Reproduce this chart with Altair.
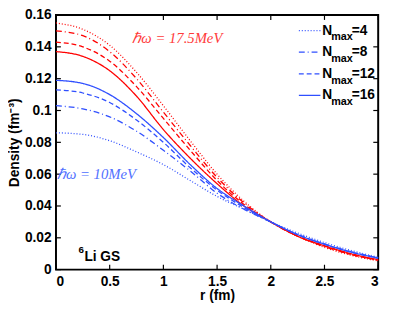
import altair as alt
import pandas as pd

r = [0, 0.25, 0.5, 0.75, 1.0, 1.25, 1.5, 1.75, 2.0, 2.25, 2.5, 2.75, 3.0]

red_n4 = [0.155, 0.151, 0.141, 0.124, 0.103, 0.081, 0.060, 0.043, 0.030, 0.021, 0.014, 0.009, 0.0055]
red_n8 = [0.150, 0.147, 0.137, 0.120, 0.099, 0.078, 0.058, 0.042, 0.030, 0.021, 0.0145, 0.0095, 0.006]
red_n12 = [0.143, 0.140, 0.131, 0.115, 0.095, 0.075, 0.056, 0.041, 0.030, 0.021, 0.015, 0.0095, 0.006]
red_n16 = [0.137, 0.134, 0.125, 0.109, 0.088, 0.070, 0.054, 0.040, 0.030, 0.021, 0.015, 0.010, 0.0062]

blue_n4 = [0.086, 0.085, 0.081, 0.074, 0.066, 0.056, 0.046, 0.038, 0.030, 0.023, 0.017, 0.012, 0.0078]
blue_n8 = [0.103, 0.101, 0.096, 0.087, 0.075, 0.062, 0.048, 0.038, 0.030, 0.022, 0.016, 0.0112, 0.0074]
blue_n12 = [0.113, 0.111, 0.105, 0.094, 0.080, 0.064, 0.050, 0.039, 0.030, 0.022, 0.016, 0.011, 0.0073]
blue_n16 = [0.119, 0.117, 0.110, 0.098, 0.083, 0.066, 0.051, 0.040, 0.030, 0.022, 0.016, 0.011, 0.0072]

nmax_labels = ["4", "8", "12", "16"]
x_ticks = [0, 0.5, 1, 1.5, 2, 2.5, 3]
y_ticks = [0, 0.02, 0.04, 0.06, 0.08, 0.1, 0.12, 0.14, 0.16]

RED = "#ff0000"
BLUE = "#2f4fff"

rows = []
series = {
    ("17.5", "4"): red_n4, ("17.5", "8"): red_n8, ("17.5", "12"): red_n12, ("17.5", "16"): red_n16,
    ("10", "4"): blue_n4, ("10", "8"): blue_n8, ("10", "12"): blue_n12, ("10", "16"): blue_n16,
}
for (hw, nm), vals in series.items():
    for rv, dv in zip(r, vals):
        rows.append({"r": rv, "density": dv, "hw": hw, "nmax": nm, "key": hw + "_" + nm})
df = pd.DataFrame(rows)

W, H = 329, 260
xs = alt.Scale(domain=[0, 3], nice=False, zero=False)
ys = alt.Scale(domain=[0, 0.16], nice=False)
dash_scale = alt.Scale(domain=nmax_labels, range=[[1, 2], [6, 3, 1, 3], [5, 3], [1, 0]])
x_axis = alt.Axis(values=x_ticks, format="~g", title="r (fm)", labelOverlap=False)
y_axis = alt.Axis(values=y_ticks, format="~g", title="Density (fm⁻³)", labelOverlap=False)

lines = alt.Chart(df).mark_line(strokeWidth=1.3, interpolate="monotone").encode(
    x=alt.X("r:Q", scale=xs, axis=x_axis),
    y=alt.Y("density:Q", scale=ys, axis=y_axis),
    color=alt.Color("hw:N", scale=alt.Scale(domain=["17.5", "10"], range=[RED, BLUE]), legend=None),
    strokeDash=alt.StrokeDash("nmax:N", scale=dash_scale, legend=None),
    detail="key:N",
)

xt = pd.DataFrame({"r": x_ticks})
yt = pd.DataFrame({"density": y_ticks})
tick_style = dict(color="black", strokeWidth=1.2)
bt = alt.Chart(xt).mark_rule(**tick_style).encode(x=alt.X("r:Q", scale=xs, axis=x_axis), y=alt.value(H), y2=alt.value(H - 5))
tt = alt.Chart(xt).mark_rule(**tick_style).encode(x=alt.X("r:Q", scale=xs, axis=x_axis), y=alt.value(0), y2=alt.value(5))
lt = alt.Chart(yt).mark_rule(**tick_style).encode(y=alt.Y("density:Q", scale=ys, axis=y_axis), x=alt.value(0), x2=alt.value(5))
rt = alt.Chart(yt).mark_rule(**tick_style).encode(y=alt.Y("density:Q", scale=ys, axis=y_axis), x=alt.value(W), x2=alt.value(W - 5))

leg = pd.DataFrame({"nmax": nmax_labels, "i": [0, 1, 2, 3]})
leg["ly"] = 16 + leg["i"] * 22
leg["eq"] = "=" + leg["nmax"]
leg_lines = alt.Chart(leg).mark_rule(strokeWidth=1.3, color=BLUE).encode(
    x=alt.value(248), x2=alt.value(270), y=alt.Y("ly:Q", scale=None),
    strokeDash=alt.StrokeDash("nmax:N", scale=dash_scale, legend=None),
)
font = "Liberation Sans"
leg_n = alt.Chart(leg).mark_text(text="N", font=font, fontWeight="bold", fontSize=14, align="left", baseline="middle").encode(
    x=alt.value(272), y=alt.Y("ly:Q", scale=None))
leg_max = alt.Chart(leg).transform_calculate(ly2="datum.ly + 7").mark_text(text="max", font=font, fontWeight="bold", fontSize=11, align="left", baseline="middle").encode(
    x=alt.value(281), y=alt.Y("ly2:Q", scale=None))
leg_eq = alt.Chart(leg).mark_text(font=font, fontWeight="bold", fontSize=14, align="left", baseline="middle").encode(
    x=alt.value(302), y=alt.Y("ly:Q", scale=None), text="eq:N")

ann_red = alt.Chart(pd.DataFrame({"t": ["ℏω = 17.5MeV"]})).mark_text(
    font="Liberation Serif", fontStyle="italic", fontSize=15, color="#ff3a3a", align="left", baseline="middle"
).encode(x=alt.value(78), y=alt.value(24), text="t:N")
ann_blue = alt.Chart(pd.DataFrame({"t": ["ℏω = 10MeV"]})).mark_text(
    font="Liberation Serif", fontStyle="italic", fontSize=15, color="#5070ff", align="left", baseline="middle"
).encode(x=alt.value(1), y=alt.value(162), text="t:N")
ann_li6 = alt.Chart(pd.DataFrame({"t": ["6"]})).mark_text(
    font=font, fontWeight="bold", fontSize=10, color="black", align="left", baseline="middle"
).encode(x=alt.value(23), y=alt.value(240), text="t:N")
ann_li = alt.Chart(pd.DataFrame({"t": ["Li GS"]})).mark_text(
    font=font, fontWeight="bold", fontSize=14, color="black", align="left", baseline="middle"
).encode(x=alt.value(29), y=alt.value(247), text="t:N")

chart = alt.layer(lines, bt, tt, lt, rt, leg_lines, leg_n, leg_max, leg_eq, ann_red, ann_blue, ann_li6, ann_li).properties(
    width=W, height=H,
    autosize=alt.AutoSizeParams(type="none"),
    padding={"left": 49, "top": 4, "right": 9, "bottom": 36},
).configure_view(stroke="black", strokeWidth=2).configure_axis(
    labelFont=font, labelFontWeight="bold", labelFontSize=14, labelColor="black",
    titleFont=font, titleFontWeight="bold", titleFontSize=14, titleColor="black",
    ticks=False, domain=False, grid=False, labelPadding=5, labelOverlap=False,
).configure_axisY(titlePadding=3).configure_axisX(titlePadding=1)

chart.save("out.html", embed_options={"renderer": "svg", "actions": False})
